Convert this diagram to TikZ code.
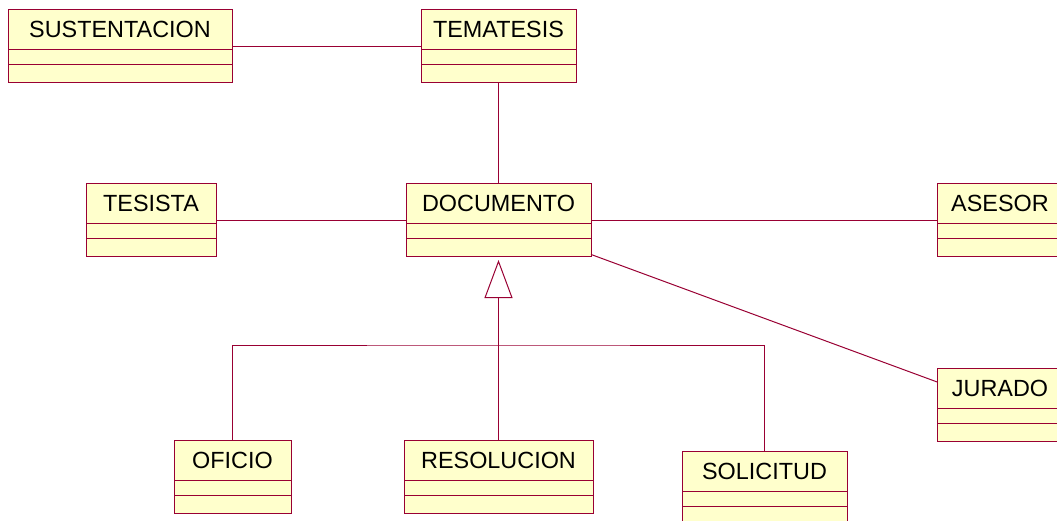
\documentclass[tikz,border=0pt]{standalone}
\usepackage{fontspec}
\setmainfont{Liberation Sans}
\usetikzlibrary{positioning}
\usetikzlibrary{arrows.meta}
\definecolor{rosered}{RGB}{153,0,51}
\definecolor{rosefill}{RGB}{255,255,204}

\begin{document}
\begin{tikzpicture}[x=1pt, y=-1pt, line width=1pt, rosered,
    klass/.style={rectangle, draw=rosered, fill=rosefill, text=black, inner sep=0pt, outer sep=0pt,
      text height=28pt, text depth=45pt, font=\fontsize{23.4pt}{28pt}\selectfont,
      path picture={
        \draw[rosered] ([yshift=-40pt]path picture bounding box.north west) -- ([yshift=-40pt]path picture bounding box.north east);
        \draw[rosered] ([yshift=-55pt]path picture bounding box.north west) -- ([yshift=-55pt]path picture bounding box.north east);}},
    inherit/.style={-{Triangle[length=38pt, width=28pt, fill=white]}, shorten >=3pt}]
  \useasboundingbox (0,0) rectangle (1057,521);
  \clip (0,0) rectangle (1057,521);
  \node[klass, minimum width=185pt] (doc) at (498.5,220.5) {DOCUMENTO};
  \node[klass, minimum width=155pt, above=101pt of doc] (tema) {TEMATESIS};
  \node[klass, minimum width=224pt, left=189pt of tema] (sus) {SUSTENTACION};
  \node[klass, minimum width=130pt, left=190pt of doc] (tesista) {TESISTA};
  \node[klass, minimum width=126pt, right=346pt of doc] (asesor) {ASESOR};
  \node[klass, minimum width=126pt] (jurado) at (1000,405) {JURADO};
  \node[klass, minimum width=189pt, below=183pt of doc] (res) {RESOLUCION};
  \node[klass, minimum width=117pt, left=113pt of res] (oficio) {OFICIO};
  \node[klass, minimum width=165pt] (sol) at (764.5,487.5) {SOLICITUD};
%
  \coordinate (gen) at ([yshift=95pt]res.north);
  \path (sus) edge (tema)
    (tema) edge (doc)
    (tesista) edge (doc)
    (doc) edge (asesor)
    (doc) edge (jurado);
  \draw[inherit] (res) -- (doc);
  \draw (oficio) |- (gen) -| (sol);
\end{tikzpicture}
\end{document}
